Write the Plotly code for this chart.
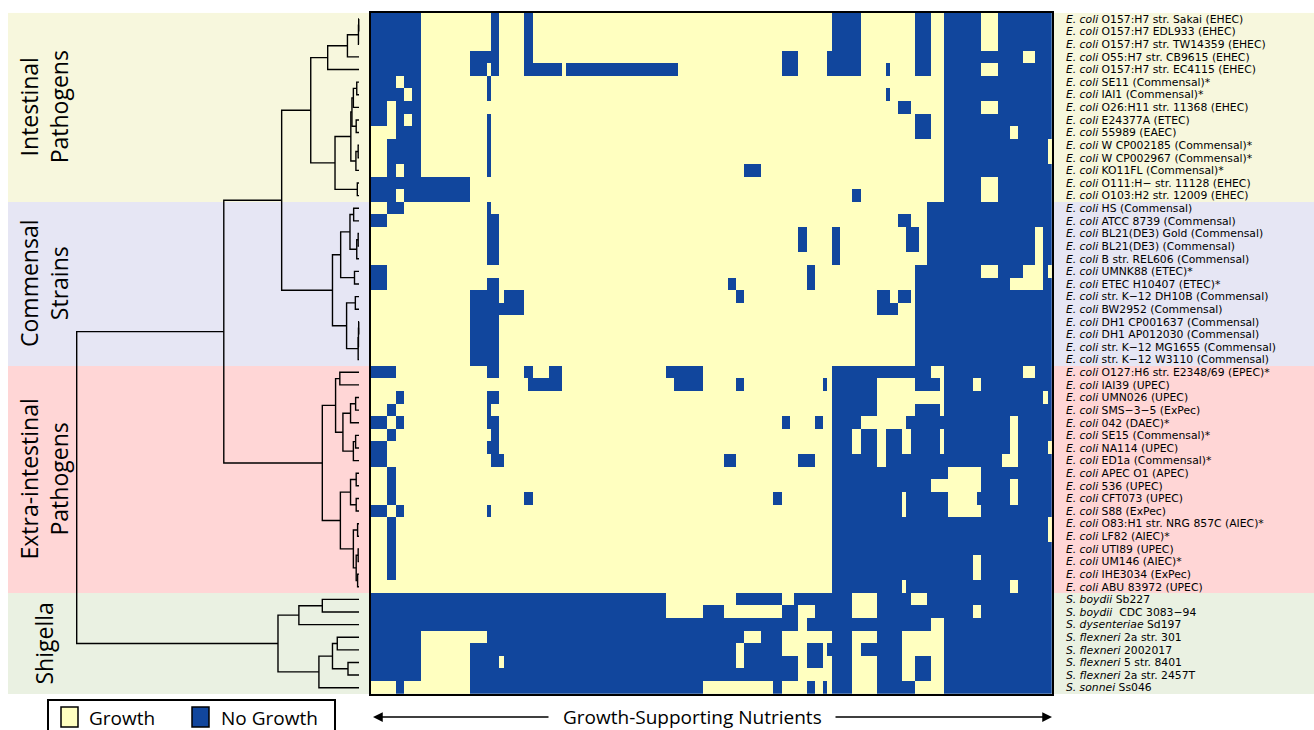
import plotly.graph_objects as go

W, H = 1314, 730

strains = [
    "<i>E. coli</i> O157:H7 str. Sakai (EHEC)",
    "<i>E. coli</i> O157:H7 EDL933 (EHEC)",
    "<i>E. coli</i> O157:H7 str. TW14359 (EHEC)",
    "<i>E. coli</i> O55:H7 str. CB9615 (EHEC)",
    "<i>E. coli</i> O157:H7 str. EC4115 (EHEC)",
    "<i>E. coli</i> SE11 (Commensal)*",
    "<i>E. coli</i> IAI1 (Commensal)*",
    "<i>E. coli</i> O26:H11 str. 11368 (EHEC)",
    "<i>E. coli</i> E24377A (ETEC)",
    "<i>E. coli</i> 55989 (EAEC)",
    "<i>E. coli</i> W CP002185 (Commensal)*",
    "<i>E. coli</i> W CP002967 (Commensal)*",
    "<i>E. coli</i> KO11FL (Commensal)*",
    "<i>E. coli</i> O111:H\u2212 str. 11128 (EHEC)",
    "<i>E. coli</i> O103:H2 str. 12009 (EHEC)",
    "<i>E. coli</i> HS (Commensal)",
    "<i>E. coli</i> ATCC 8739 (Commensal)",
    "<i>E. coli</i> BL21(DE3) Gold (Commensal)",
    "<i>E. coli</i> BL21(DE3) (Commensal)",
    "<i>E. coli</i> B str. REL606 (Commensal)",
    "<i>E. coli</i> UMNK88 (ETEC)*",
    "<i>E. coli</i> ETEC H10407 (ETEC)*",
    "<i>E. coli</i> str. K\u221212 DH10B (Commensal)",
    "<i>E. coli</i> BW2952 (Commensal)",
    "<i>E. coli</i> DH1 CP001637 (Commensal)",
    "<i>E. coli</i> DH1 AP012030 (Commensal)",
    "<i>E. coli</i> str. K\u221212 MG1655 (Commensal)",
    "<i>E. coli</i> str. K\u221212 W3110 (Commensal)",
    "<i>E. coli</i> O127:H6 str. E2348/69 (EPEC)*",
    "<i>E. coli</i> IAI39 (UPEC)",
    "<i>E. coli</i> UMN026 (UPEC)",
    "<i>E. coli</i> SMS\u22123\u22125 (ExPec)",
    "<i>E. coli</i> 042 (DAEC)*",
    "<i>E. coli</i> SE15 (Commensal)*",
    "<i>E. coli</i> NA114 (UPEC)",
    "<i>E. coli</i> ED1a (Commensal)*",
    "<i>E. coli</i> APEC O1 (APEC)",
    "<i>E. coli</i> 536 (UPEC)",
    "<i>E. coli</i> CFT073 (UPEC)",
    "<i>E. coli</i> S88 (ExPec)",
    "<i>E. coli</i> O83:H1 str. NRG 857C (AIEC)*",
    "<i>E. coli</i> LF82 (AIEC)*",
    "<i>E. coli</i> UTI89 (UPEC)",
    "<i>E. coli</i> UM146 (AIEC)*",
    "<i>E. coli</i> IHE3034 (ExPec)",
    "<i>E. coli</i> ABU 83972 (UPEC)",
    "<i>S. boydii</i> Sb227",
    "<i>S. boydii</i>  CDC 3083\u221294",
    "<i>S. dysenteriae</i> Sd197",
    "<i>S. flexneri</i> 2a str. 301",
    "<i>S. flexneri</i> 2002017",
    "<i>S. flexneri</i> 5 str. 8401",
    "<i>S. flexneri</i> 2a str. 2457T",
    "<i>S. sonnei</i> Ss046",
]

group_names = ["Intestinal<br>Pathogens", "Commensal<br>Strains",
               "Extra-intestinal<br>Pathogens", "Shigella"]
group_sizes = [15, 13, 18, 8]
group_colors = ["#F7F7DD", "#E6E6F4", "#FFD6D6", "#EAF1E2"]

n_nutrients = 164

# nutrient columns (0-based, inclusive ranges) where each strain shows NO growth
no_growth_runs = [
    "0-11,29-30,37-38,111-117,131-134,138-146,151-163",
    "0-11,29-30,37-38,111-117,131-134,138-146,151-163",
    "0-11,29-30,37-38,111-117,131-134,138-146,151-163",
    "0-11,24-30,37-38,99-102,110-117,131-134,138-156,160-163",
    "0-11,24-27,29-30,37-45,47-73,99-102,110-117,124,131-134,138-146,151-163",
    "0-5,8-11,28,138-163",
    "0-7,10-11,28,124,138-163",
    "0-3,6-11,127-129,138-146,151-163",
    "0-3,6-7,10-11,28,131-134,138-163",
    "6-11,28,131-134,138-153,156-163",
    "4-11,28,138-162",
    "4-11,28,138-162",
    "4-5,8-11,28,90-93,138-163",
    "0-23,138-146,151-163",
    "0-5,8-23,116-117,138-146,151-163",
    "4-7,28,134-163",
    "0-3,28-30,127-129,134-163",
    "28-30,103-104,111-112,129-131,134-159,162-163",
    "28-30,103-104,111-112,129-131,134-159,162-163",
    "28-30,111-112,134-159,162-163",
    "0-3,105-106,131-146,151-156,162",
    "0-3,28-30,86-87,105-106,131-153,162-163",
    "24-30,32-36,88-89,122-124,127-129,131-163",
    "24-36,122-126,131-163",
    "24-30,131-163",
    "24-30,131-163",
    "24-30,131-163",
    "24-30,131-163",
    "0-5,28-30,37-38,43-45,71-79,111-134,138-156,160-163",
    "38-45,73-79,88-89,109,111-121,131-136,138-144,147-163",
    "6-7,28-30,111-121,138-161,163",
    "4-5,28,111-121,131-136,138-163",
    "0-3,6-7,28-30,99-100,107-108,111-117,129-153,156-163",
    "4-5,29-30,111-115,118-121,124-127,130-136,138-153,156-163",
    "0-3,28-30,111-115,118-121,124-127,130-136,138-153,156-162",
    "0-3,29-31,85-87,103-106,111-121,124-151,156-163",
    "4-5,111-138,147-163",
    "4-5,111-134,147-153,156-163",
    "4-5,37-38,97-98,111-127,129-138,146-153,156-163",
    "0-3,6-7,28,111-127,129-138,147-163",
    "4-5,111-162",
    "4-5,111-162",
    "4-5,111-163",
    "4-5,111-144,147-163",
    "4-5,111-144,147-163",
    "111-127,129-153,156-163",
    "0-70,88-98,102-115,122-129,134-163",
    "0-70,80-84,99-102,107-115,122-144,147-163",
    "0-102,105-134,138-163",
    "0-11,28-89,94-98,111-115,122-127,138-163",
    "0-11,24-87,90-98,105-108,110-115,118-127,138-163",
    "0-11,24-30,32-87,90-102,105-108,111-115,122-127,131-134,138-163",
    "0-11,24-102,111-115,122-127,131-134,138-163",
    "6-7,24-79,97-98,105-106,109,111-115,122-130,138-163",
]

# hierarchical clustering: (child a, child b, linkage distance); new clusters get ids 54, 55, ...
linkage = [
    (0, 1, 0.001), (54, 2, 0.002), (55, 3, 0.041), (56, 4, 0.111),
    (5, 6, 0.008), (58, 7, 0.020), (8, 9, 0.010), (59, 60, 0.025),
    (10, 11, 0.003), (62, 12, 0.011), (61, 63, 0.029), (13, 14, 0.006),
    (64, 65, 0.085), (57, 66, 0.171),
    (15, 16, 0.019), (17, 18, 0.003), (69, 19, 0.008), (68, 70, 0.032),
    (20, 21, 0.016), (71, 72, 0.065), (22, 23, 0.013), (24, 25, 0.001),
    (75, 26, 0.002), (76, 27, 0.003), (74, 77, 0.044), (73, 78, 0.094),
    (67, 79, 0.274),
    (28, 29, 0.068), (30, 31, 0.012), (82, 32, 0.030), (33, 34, 0.012),
    (84, 35, 0.020), (83, 85, 0.057), (81, 86, 0.083), (36, 37, 0.010),
    (38, 39, 0.010), (88, 89, 0.030), (40, 41, 0.005), (42, 43, 0.003),
    (44, 45, 0.005), (92, 93, 0.010), (91, 94, 0.020), (90, 95, 0.066),
    (87, 96, 0.130), (80, 97, 0.479),
    (46, 47, 0.130), (99, 48, 0.213), (49, 50, 0.077), (51, 52, 0.039),
    (101, 102, 0.094), (103, 53, 0.142), (100, 104, 0.287),
    (98, 105, 1.0),
]

GROW = "#FFFFC0"
NOGROW = "#11469D"

n = len(strains)

# build matrix
z = []
for runs in no_growth_runs:
    row = [0] * n_nutrients
    for part in runs.split(","):
        a, _, b = part.strip().partition("-")
        a = int(a)
        b = int(b) if b else a
        for c in range(a, b + 1):
            row[c] = 1
    z.append(row)

# dendrogram segments
pos = {i: (float(i), 0.0) for i in range(n)}
dx, dy = [], []
for k, (a, b, h) in enumerate(linkage):
    ya, ha = pos[a]
    yb, hb = pos[b]
    dx += [ha, h, h, hb, None]
    dy += [ya, ya, yb, yb, None]
    pos[n + k] = ((ya + yb) / 2.0, h)


def px(x):
    return x / W


def py(y):
    return 1 - y / H


FONT = "Open Sans"
LABEL_FONT = "DejaVu Sans"

fig = go.Figure()
fig.add_trace(go.Heatmap(
    z=z, x=list(range(n_nutrients)), y=list(range(n)),
    colorscale=[[0, GROW], [0.5, GROW], [0.5, NOGROW], [1, NOGROW]],
    zmin=0, zmax=1, showscale=False, hoverinfo="skip",
))
fig.add_trace(go.Scatter(
    x=dx, y=dy, xaxis="x2", yaxis="y", mode="lines",
    line=dict(color="black", width=1.4), hoverinfo="skip", showlegend=False,
))

shapes = []
annotations = []
start = 0
for name, size, col in zip(group_names, group_sizes, group_colors):
    shapes.append(dict(type="rect", xref="paper", yref="y", x0=px(8), x1=1.0,
                       y0=start - 0.5, y1=start + size - 0.5, fillcolor=col,
                       line=dict(width=0), layer="below"))
    annotations.append(dict(xref="paper", yref="y", x=px(44), y=start + (size - 1) / 2.0,
                            xanchor="center", yanchor="middle",
                            text=name, textangle=-90, showarrow=False,
                            font=dict(family=FONT, size=23, color="black")))
    start += size

# legend box
shapes.append(dict(type="rect", xref="paper", yref="paper", x0=px(48), x1=px(335),
                   y0=py(745), y1=py(700), line=dict(color="black", width=2),
                   fillcolor="white"))
shapes.append(dict(type="rect", xref="paper", yref="paper", x0=px(61), x1=px(78),
                   y0=py(727), y1=py(707), line=dict(color="black", width=1.5),
                   fillcolor=GROW))
shapes.append(dict(type="rect", xref="paper", yref="paper", x0=px(192), x1=px(209),
                   y0=py(727), y1=py(707), line=dict(color="black", width=1.5),
                   fillcolor=NOGROW))
annotations.append(dict(xref="paper", yref="paper", x=px(87), y=py(718),
                        xanchor="left", yanchor="middle",
                        text="Growth", showarrow=False,
                        font=dict(family=FONT, size=19, color="black")))
annotations.append(dict(xref="paper", yref="paper", x=px(219), y=py(718),
                        xanchor="left", yanchor="middle",
                        text="No Growth", showarrow=False,
                        font=dict(family=FONT, size=19, color="black")))

# axis caption with arrows
annotations.append(dict(xref="paper", yref="paper", x=px(692), y=py(717),
                        xanchor="center", yanchor="middle",
                        text="Growth-Supporting Nutrients", showarrow=False,
                        font=dict(family=FONT, size=19, color="black")))
for tip, off in [(373, 177), (1052, -218)]:
    annotations.append(dict(xref="paper", yref="paper", x=px(tip), y=py(717),
                            axref="pixel", ayref="pixel", ax=off, ay=0,
                            text="", showarrow=True, arrowhead=2, arrowsize=1.3,
                            arrowwidth=1.5, arrowcolor="black"))

fig.update_layout(
    width=W, height=H,
    margin=dict(l=0, r=0, t=0, b=0),
    paper_bgcolor="white", plot_bgcolor="rgba(0,0,0,0)",
    showlegend=False,
    xaxis=dict(domain=[px(370.7), px(1052)], range=[-0.5, n_nutrients - 0.5],
               showticklabels=False, showgrid=False, zeroline=False, ticks="",
               showline=True, mirror=True, linecolor="black", linewidth=1.5),
    yaxis=dict(domain=[py(694), py(12.7)], range=[n - 0.5, -0.5], side="right",
               tickmode="array", tickvals=list(range(n)), ticktext=strains,
               tickfont=dict(family=LABEL_FONT, size=10.8, color="black"),
               showgrid=False, zeroline=False, ticks="", ticklabelstandoff=10,
               automargin=False, showline=True, mirror=True, linecolor="black",
               linewidth=1.5),
    xaxis2=dict(domain=[0, px(370.7)], range=[1.2717, -0.0414], visible=False,
                anchor="y", showgrid=False, zeroline=False),
    shapes=shapes,
    annotations=annotations,
)

fig.write_html("out.html",
               config={"displayModeBar": False},
               post_script="document.body.style.margin='0px';document.body.style.padding='0px';")
